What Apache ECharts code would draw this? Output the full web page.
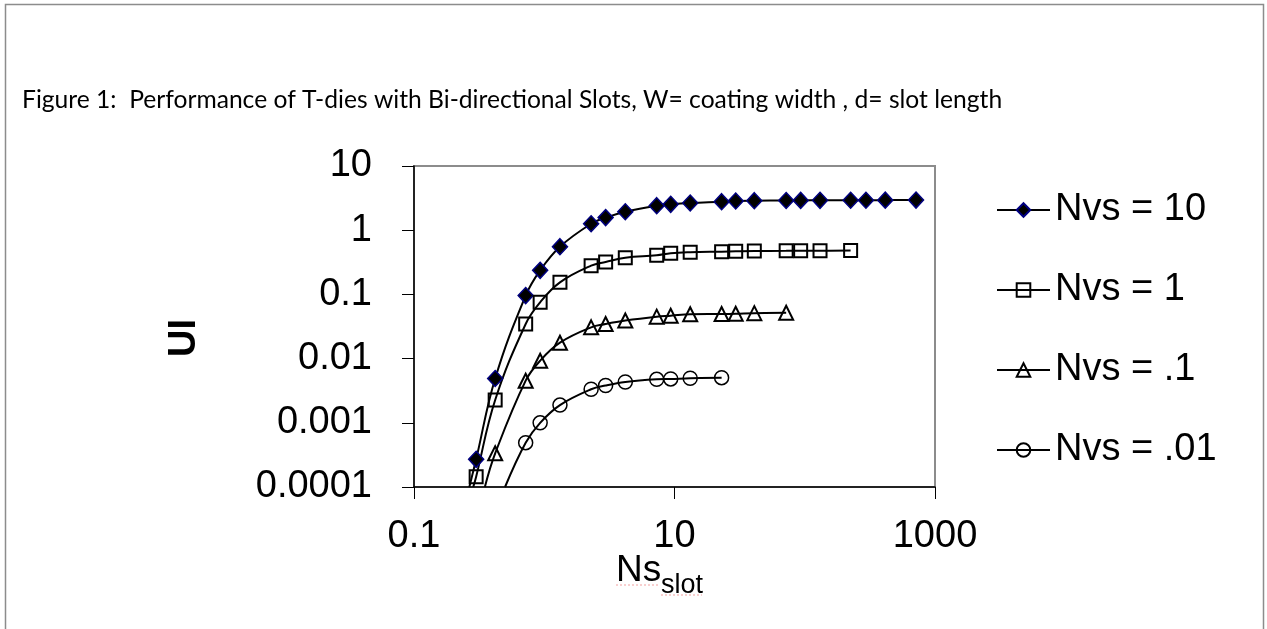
<!DOCTYPE html>
<html>
<head>
<meta charset="utf-8">
<script src="https://cdn.jsdelivr.net/npm/echarts@6/dist/echarts.min.js"></script>
<style>
html,body{margin:0;padding:0;background:#fff;}
#chart{width:1267px;height:629px;}
</style>
</head>
<body>
<div id="chart"></div>
<script>
// ---- data ----
const seriesNames = ['Nvs = 10', 'Nvs = 1', 'Nvs = .1', 'Nvs = .01'];

const nsNvs10 = [0.3, 0.42, 0.72, 0.93, 1.32, 2.29, 2.96, 4.19, 7.3, 9.35, 13.2, 23, 29.5, 41, 72, 93, 131, 225, 295, 415, 715];
const uiNvs10 = [0.00027, 0.0049, 0.096, 0.237, 0.553, 1.26, 1.57, 1.94, 2.41, 2.53, 2.65, 2.78, 2.85, 2.88, 2.9, 2.91, 2.92, 2.93, 2.93, 2.94, 2.95];

const nsNvs1 = [0.3, 0.42, 0.72, 0.93, 1.32, 2.29, 2.96, 4.19, 7.3, 9.35, 13.2, 23, 29.5, 41, 72, 93, 131, 225];
const uiNvs1 = [0.000145, 0.00226, 0.0346, 0.0753, 0.154, 0.28, 0.32, 0.373, 0.406, 0.437, 0.453, 0.463, 0.468, 0.474, 0.477, 0.479, 0.48, 0.482];

const nsNvs01 = [0.42, 0.72, 0.93, 1.32, 2.29, 2.96, 4.19, 7.3, 9.35, 13.2, 23, 29.5, 41, 72];
const uiNvs01 = [0.000335, 0.00453, 0.00927, 0.0177, 0.0307, 0.0346, 0.0392, 0.045, 0.0466, 0.049, 0.0495, 0.05, 0.051, 0.0517];

const nsNvs001 = [0.72, 0.93, 1.32, 2.29, 2.96, 4.19, 7.3, 9.35, 13.2, 23];
const uiNvs001 = [0.00049, 0.001, 0.00189, 0.00333, 0.00381, 0.00432, 0.00476, 0.00482, 0.00494, 0.00504];

// where each fitted curve meets the bottom of the plot (UI = 0.0001)
const curveStartNs = [0.266, 0.285, 0.35, 0.5];
const curveStartUi = 0.0001;

const xTickValues = [0.1, 10, 1000];
const yMin = 0.0001, yMax = 10;
const xMin = 0.1, xMax = 1000;

const titleText = 'Figure 1:  Performance of T-dies with Bi-directional Slots, W= coating width , d= slot length';
const yName = 'UI';
const xNameMain = 'Ns';
const xNameSub = 'slot';

// ---- build ----
function makeData(i, xs, ys) {
  const d = [{ value: [curveStartNs[i], curveStartUi], symbol: 'none' }];
  for (let k = 0; k < xs.length; k++) d.push([xs[k], ys[k]]);
  return d;
}
const allX = [nsNvs10, nsNvs1, nsNvs01, nsNvs001];
const allY = [uiNvs10, uiNvs1, uiNvs01, uiNvs001];
const symbols = ['diamond', 'rect', 'triangle', 'circle'];
const symbolSizes = [[15, 16], 13, 14, 14];
const fills = ['#000000', 'rgba(0,0,0,0)', 'rgba(0,0,0,0)', 'rgba(0,0,0,0)'];
const borders = ['#000080', '#000000', '#000000', '#000000'];
const borderWidths = [1.5, 2, 2, 1.5];

const fmt = v => String(parseFloat(Number(v).toPrecision(3)));
const FONT = '"Liberation Sans", Arial, sans-serif';

const series = seriesNames.map((name, i) => ({
  name: name,
  type: 'line',
  smooth: 0.4,
  data: makeData(i, allX[i], allY[i]),
  symbol: symbols[i],
  symbolSize: symbolSizes[i],
  showAllSymbol: true,
  clip: true,
  lineStyle: { color: '#000', width: 2 },
  itemStyle: { color: fills[i], borderColor: borders[i], borderWidth: borderWidths[i] },
  emphasis: { disabled: true },
  z: 3
}));

const chart = echarts.init(document.getElementById('chart'), null, { renderer: 'canvas' });
chart.setOption({
  animation: false,
  backgroundColor: '#fff',
  grid: {
    left: 414, top: 166, width: 521, height: 321,
    show: true, borderColor: '#8c8c8c', borderWidth: 2, backgroundColor: 'transparent'
  },
  xAxis: {
    type: 'log', logBase: 10, min: xMin, max: xMax,
    axisLine: { show: true, lineStyle: { color: '#000', width: 1.5 } },
    axisTick: { show: true, length: 12, inside: false, customValues: xTickValues, lineStyle: { color: '#000', width: 1 } },
    axisLabel: { customValues: xTickValues, formatter: fmt, margin: 31, fontSize: 38, fontFamily: FONT, color: '#000' },
    splitLine: { show: false },
    minorTick: { show: false }
  },
  yAxis: {
    type: 'log', logBase: 10, min: yMin, max: yMax,
    axisLine: { show: true, lineStyle: { color: '#000', width: 1.5 } },
    axisTick: { show: true, length: 12, inside: false, lineStyle: { color: '#000', width: 1 } },
    axisLabel: { formatter: fmt, margin: 42, fontSize: 38, fontFamily: FONT, color: '#000' },
    splitLine: { show: false }
  },
  legend: {
    orient: 'vertical',
    left: 991, top: 186,
    itemWidth: 53, itemHeight: 17, itemGap: 42,
    textStyle: { fontSize: 38, fontFamily: FONT, color: '#000' },
    data: seriesNames,
    selectedMode: false
  },
  graphic: [
    { type: 'rect', left: 3, top: 2, shape: { width: 1258, height: 700 }, silent: true,
      style: { fill: 'none', stroke: '#8c8c8c', lineWidth: 1.5 }, z: -10 },
    { type: 'text', x: 22, y: 100, scaleX: 0.985, silent: true,
      style: { text: titleText, font: '25px Lato, "Open Sans", sans-serif', fill: '#000', textVerticalAlign: 'middle', textAlign: 'left' } },
    { type: 'text', x: 185, y: 338, rotation: Math.PI / 2, silent: true,
      style: { text: yName, font: 'bold 38px "Liberation Sans", Arial, sans-serif', fill: '#000', textAlign: 'center', textVerticalAlign: 'middle' } },
    { type: 'text', x: 616, y: 571, silent: true,
      style: { text: xNameMain, font: '37px "Liberation Sans", Arial, sans-serif', fill: '#000', textAlign: 'left', textVerticalAlign: 'middle' } },
    { type: 'text', x: 661, y: 586, silent: true,
      style: { text: xNameSub, font: '27px "Liberation Sans", Arial, sans-serif', fill: '#000', textAlign: 'left', textVerticalAlign: 'middle' } },
    { type: 'line', silent: true, shape: { x1: 616, y1: 585, x2: 660, y2: 585 },
      style: { stroke: '#f2a0a0', lineWidth: 1, lineDash: [2, 2] } },
    { type: 'line', silent: true, shape: { x1: 661, y1: 595, x2: 702, y2: 595 },
      style: { stroke: '#f2a0a0', lineWidth: 1, lineDash: [2, 2] } }
  ],
  series: series
});
</script>
</body>
</html>
